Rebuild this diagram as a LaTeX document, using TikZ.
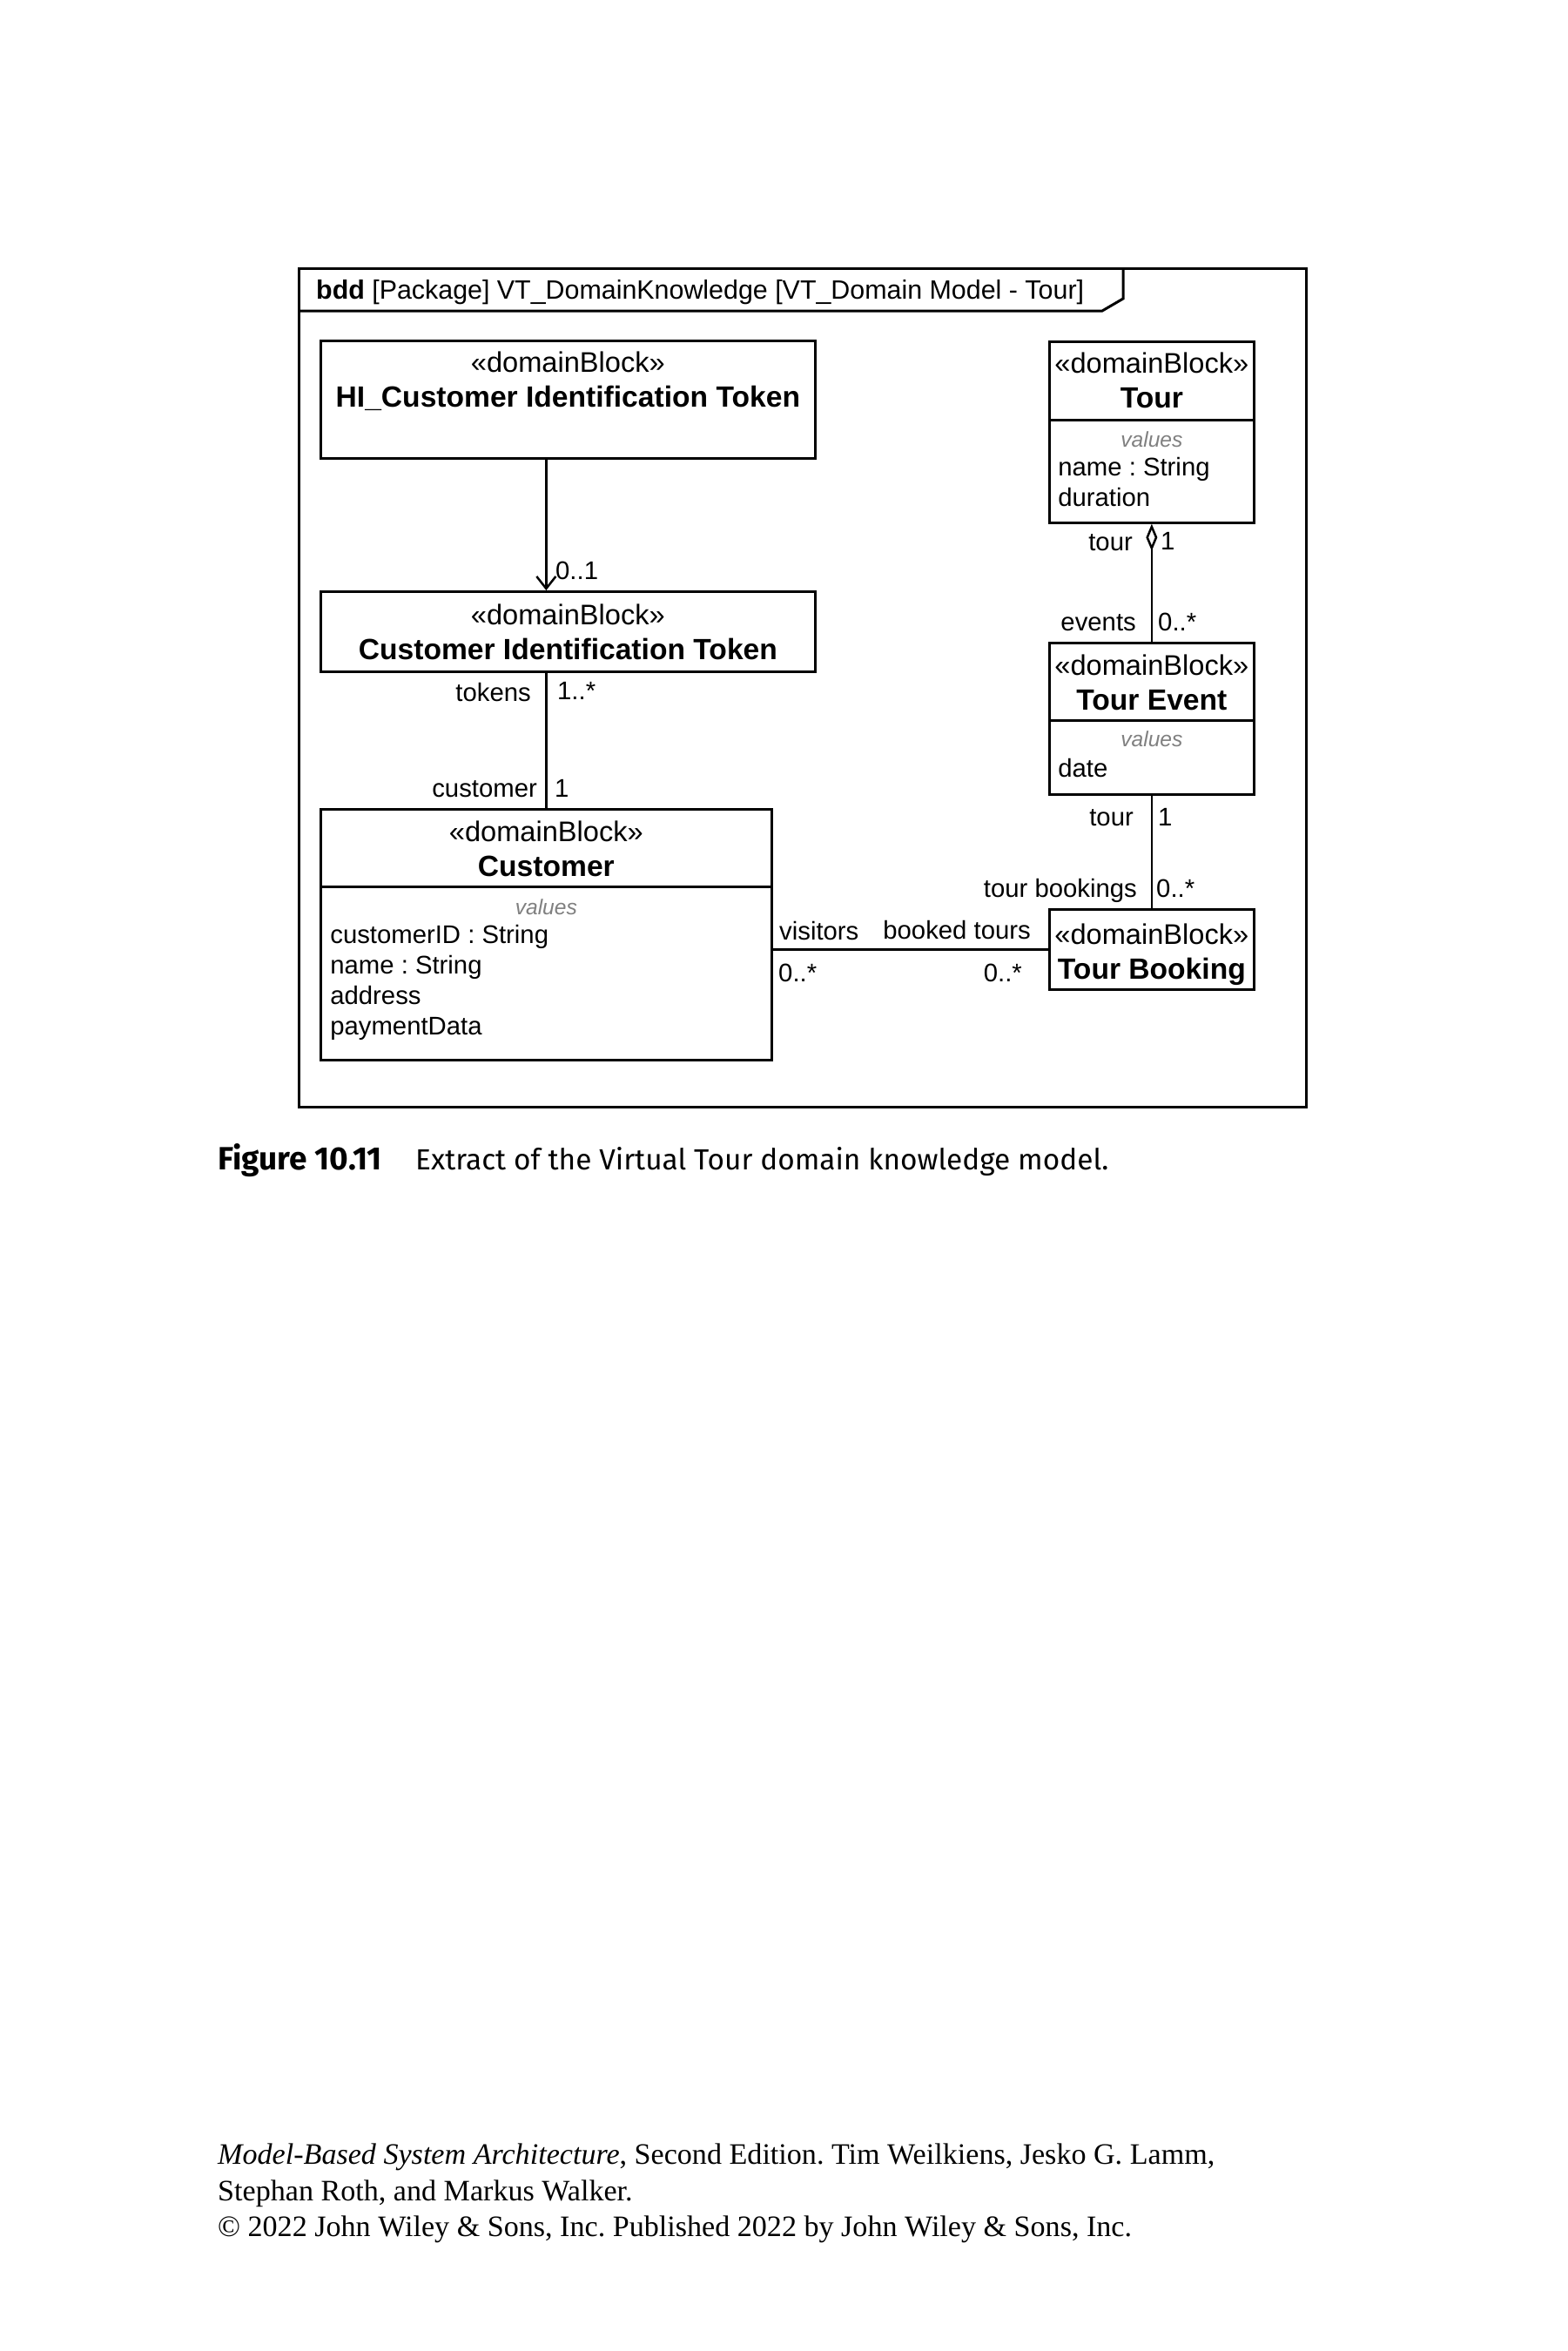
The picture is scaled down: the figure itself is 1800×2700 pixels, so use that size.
\documentclass[tikz,border=0pt]{standalone}
\usepackage{fontspec}
\setmainfont{Liberation Sans}
\newfontfamily\capfont{Fira Sans}
\newfontfamily\bookfont{Liberation Serif}
\usetikzlibrary{positioning, arrows.meta}
\frenchspacing

\definecolor{valgray}{gray}{0.5}
\newcommand{\stereofont}{\fontsize{32.6}{40}\selectfont}
\newcommand{\namefont}{\fontsize{33.6}{40}\selectfont\bfseries}
\newcommand{\titlefont}{\fontsize{30.4}{36}\selectfont}
\newcommand{\rolefont}{\fontsize{29.3}{34.5}\selectfont}
\newcommand{\valfont}{\fontsize{24.6}{28}\selectfont\itshape\color{valgray}}
\newcommand{\capsize}{\fontsize{33.4}{40}\selectfont}
\newcommand{\capnosize}{\fontsize{37}{40}\selectfont}
\newcommand{\booksize}{\fontsize{34.1}{41}\selectfont}

\begin{document}
\begin{tikzpicture}[
        x=1pt, y=-1pt,
        every node/.style={inner sep=0pt, font=\rolefont},
        block/.style={draw, line width=2.7pt, anchor=north west},
        bname/.style={minimum height=91pt, align=center, font=\stereofont},
        sep/.style={line width=2.7pt},
        valhead/.style={font=\valfont, text height=18pt, text depth=0pt},
        attr/.style={text height=22pt, text depth=7pt},
        role/.style={font=\rolefont},
        assoc/.style={line width=2.5pt},
        navi/.style={assoc, -{Straight Barb[length=14pt, width=22pt, line width=2.5pt]}},
        aggr/.style={assoc, {Diamond[open, length=31pt, width=13pt, line width=2.5pt]}-},
        frame/.style={line width=3pt},
        figcap/.style={anchor=base west, font=\capfont\capsize},
        foot/.style={anchor=base west, font=\bookfont\booksize}
    ]

    \path[fill=white, use as bounding box] (0,0) rectangle (1800,2700);

    % Diagram frame
    \draw[frame] (343,308) rectangle (1500,1271);
    \draw[frame] (343,357) -- (1266,357) -- (1290,343) -- (1290,308);
    \node[anchor=base west, font=\titlefont] (title) at (363,343) {\textbf{bdd} [Package] VT\_DomainKnowledge [VT\_Domain Model - Tour]};

    % Left column
    \node[block, minimum width=568pt, minimum height=135pt] (hi) at (367,390) {};
    \node[bname, minimum width=568pt, minimum height=92pt, below=2pt of hi.north] (hiname) {«domainBlock»\\{\namefont HI\_Customer Identification Token}};

    \node[block, minimum width=568pt, minimum height=92pt] (cit) at (367,678) {};
    \node[bname, minimum width=568pt, minimum height=92pt, below=2pt of cit.north] (citname) {«domainBlock»\\{\namefont Customer Identification Token}};

    \node[block, minimum width=518pt, minimum height=288pt] (cust) at (367,928) {};
    \node[bname, minimum width=518pt, minimum height=90pt, below=0pt of cust.north] (custname) {};
    \node[bname, minimum width=518pt, minimum height=90pt, below=2pt of cust.north] (custtext) {«domainBlock»\\{\namefont Customer}};
    \draw[sep] (custname.south west) -- (custname.south east);
    \node[valhead, below=14pt of custname.south] (custvals) {values};
    \node[attr, below right=43pt and 11pt of custname.south west] (custattr1) {customerID : String};
    \node[attr, below right=5.5pt and 0pt of custattr1.south west] (custattr2) {name : String};
    \node[attr, below right=5.5pt and 0pt of custattr2.south west] (custattr3) {address};
    \node[attr, below right=5.5pt and 0pt of custattr3.south west] (custattr4) {paymentData};

    % Right column
    \node[block, minimum width=235pt, minimum height=208pt] (tour) at (1204,391) {};
    \node[bname, minimum width=235pt, below=0pt of tour.north] (tourname) {«domainBlock»\\{\namefont Tour}};
    \draw[sep] (tourname.south west) -- (tourname.south east);
    \node[valhead, below=13pt of tourname.south] (tourvals) {values};
    \node[attr, below right=42pt and 10pt of tourname.south west] (tourattr1) {name : String};
    \node[attr, below right=5.5pt and 0pt of tourattr1.south west] (tourattr2) {duration};

    \node[block, minimum width=235pt, minimum height=174pt] (te) at (1204,737) {};
    \node[bname, minimum width=235pt, minimum height=90pt, below=0pt of te.north] (tename) {};
    \node[bname, minimum width=235pt, minimum height=90pt, below=2pt of te.north] (tetext) {«domainBlock»\\{\namefont Tour Event}};
    \draw[sep] (tename.south west) -- (tename.south east);
    \node[valhead, below=12pt of tename.south] (tevals) {values};
    \node[attr, below right=43pt and 10pt of tename.south west] (teattr1) {date};

    \node[block, minimum width=235pt, minimum height=92pt] (tb) at (1204,1043) {};
    \node[bname, minimum width=235pt, minimum height=92pt, below=7pt of tb.north] (tbname) {«domainBlock»\\{\namefont Tour Booking}};

    % Connectors
    \draw[navi] (hi.south -| cust.north) -- (cit.north -| cust.north);
    \draw[assoc] (cit.south -| cust.north) -- (cust.north);
    \draw[aggr] (tour.south) -- (te.north);
    \draw[assoc] (te.south) -- (tb.north);
    \draw[assoc] (cust.east |- tb.west) -- (tb.west);

    % Role names and multiplicities
    \node[role, anchor=base west] (m01) at (638,665) {0..1};
    \node[role, anchor=base east] (rtokens) at (610,805) {tokens};
    \node[role, anchor=base west] (mtokens) at (640,803) {1..*};
    \node[role, anchor=base east] (rcustomer) at (617,915) {customer};
    \node[role, anchor=base west] (mcustomer) at (637,915) {1};
    \node[role, anchor=base east] (rtour) at (1301,632) {tour};
    \node[role, anchor=base west] (mtour) at (1333,631) {1};
    \node[role, anchor=base east] (revents) at (1305,724) {events};
    \node[role, anchor=base west] (mevents) at (1330,724) {0..*};
    \node[role, anchor=base east] (rtourb) at (1302,948) {tour};
    \node[role, anchor=base west] (mtourb) at (1330,948) {1};
    \node[role, anchor=base east] (rbookings) at (1306,1030) {tour bookings};
    \node[role, anchor=base west] (mbookings) at (1328,1030) {0..*};
    \node[role, anchor=base west] (rvisitors) at (895,1079) {visitors};
    \node[role, anchor=base east] (rbooked) at (1184,1078) {booked tours};
    \node[role, anchor=base west] (mvisitors) at (894,1127) {0..*};
    \node[role, anchor=base east] (mbooked) at (1174,1127) {0..*};

    % Caption and book line
    \node[figcap, font=\capfont\capnosize] (figno) at (250,1343) {\bfseries Figure 10.11};
    \node[figcap] (figtext) at (477,1343) {Extract of the Virtual Tour domain knowledge model.};
    \node[foot] (cite1) at (250,2485) {\textit{Model-Based System Architecture}, Second Edition. Tim Weilkiens, Jesko G. Lamm,};
    \node[foot] (cite2) at (250,2527) {Stephan Roth, and Markus Walker.};
    \node[foot] (cite3) at (250,2568) {© 2022 John Wiley \& Sons, Inc. Published 2022 by John Wiley \& Sons, Inc.};

\end{tikzpicture}
\end{document}
